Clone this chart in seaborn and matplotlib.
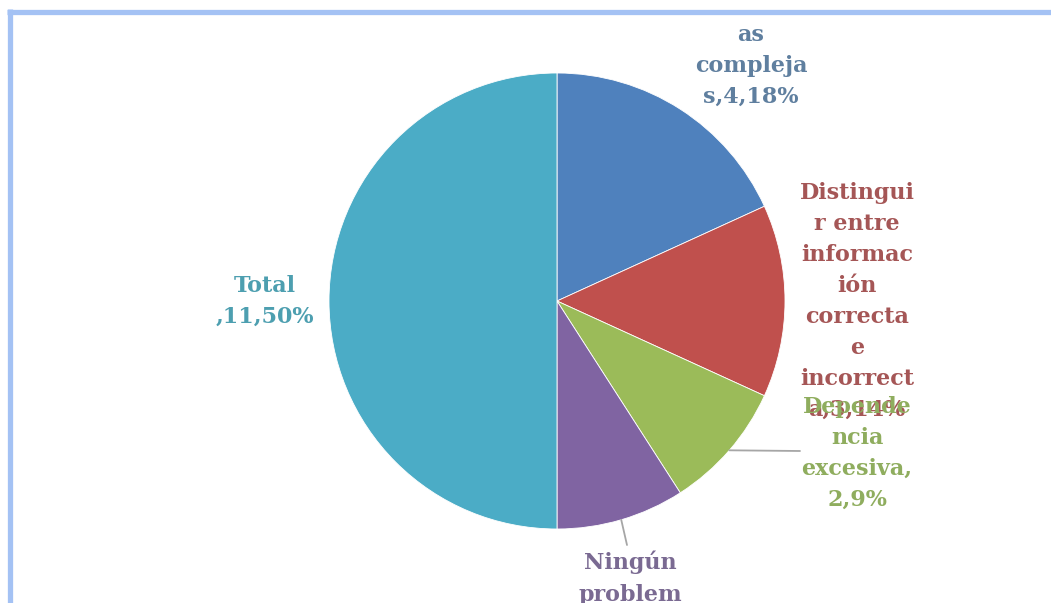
"""
Pie chart of reported problems (recreated).
"""

import matplotlib

matplotlib.use("Agg")

import matplotlib.pyplot as plt
import numpy as np
import seaborn as sns
from matplotlib.lines import Line2D

# data
categories = [
    "...as complejas",
    "Distinguir entre información correcta e incorrecta",
    "Dependencia excesiva",
    "Ningún problema",
    "Total",
]
values = [4, 3, 2, 2, 11]
percents = [18, 14, 9, 9, 50]

# label text as it is wrapped in the picture
label_texts = [
    "as\ncompleja\ns,4,18%",
    "Distingui\nr entre\ninformac\nión\ncorrecta\ne\nincorrect\na,3,14%",
    "Depende\nncia\nexcesiva,\n2,9%",
    "Ningún\nproblem\na,2,9%",
    "Total\n,11,50%",
]

slice_colors = sns.color_palette(["#4f81bd", "#c0504d", "#9bbb59", "#8064a2", "#4bacc6"])
text_colors = ["#5f7f9f", "#a55656", "#8fad5e", "#7a6a92", "#4d9fb0"]

# label placement, figure pixels (x, top of first line)
label_pos = [(751, 24), (857, 182), (857, 396), (630, 551), (265, 275)]

W, H = 1051, 603
CX, CY, R = 557, 301, 228

sns.set_theme(style="white")
plt.rcParams["font.family"] = ["DejaVu Serif", "DejaVu Sans"]

fig = plt.figure(figsize=(W / 100, H / 100), dpi=100)
ax = fig.add_axes([0, 0, 1, 1])

wedges, _ = ax.pie(
    values,
    colors=slice_colors,
    startangle=90,
    counterclock=False,
    center=(CX, H - CY),
    radius=R,
    wedgeprops=dict(edgecolor="white", linewidth=0.6),
)
# pie resets the limits, so set the pixel frame afterwards
ax.set_xlim(0, W)
ax.set_ylim(0, H)
ax.set_aspect("equal")
ax.axis("off")

for text, (x, y), col in zip(label_texts, label_pos, text_colors):
    ax.text(
        x, H - y, text,
        ha="center", va="top", fontsize=16, fontweight="bold",
        color=col, linespacing=1.53, zorder=3,
    )

# leader lines for the two small slices
for idx, end in [(2, (800, 451)), (3, (627, 545))]:
    w = wedges[idx]
    mid = np.deg2rad((w.theta1 + w.theta2) / 2)
    x0 = CX + R * np.cos(mid)
    y0 = (H - CY) + R * np.sin(mid)
    ax.plot([x0, end[0]], [y0, H - end[1]], color="#a6a6a6", lw=1.3, zorder=2)

# light blue frame on top and left
border = "#a4c2f4"
fig.add_artist(Line2D([7 / W, 1], [1 - 11.5 / H, 1 - 11.5 / H], color=border,
                      lw=3.8, solid_capstyle="butt"))
fig.add_artist(Line2D([9.5 / W, 9.5 / W], [0, 1 - 9 / H], color=border,
                      lw=3.8, solid_capstyle="butt"))

fig.savefig("out.png", dpi=100)
